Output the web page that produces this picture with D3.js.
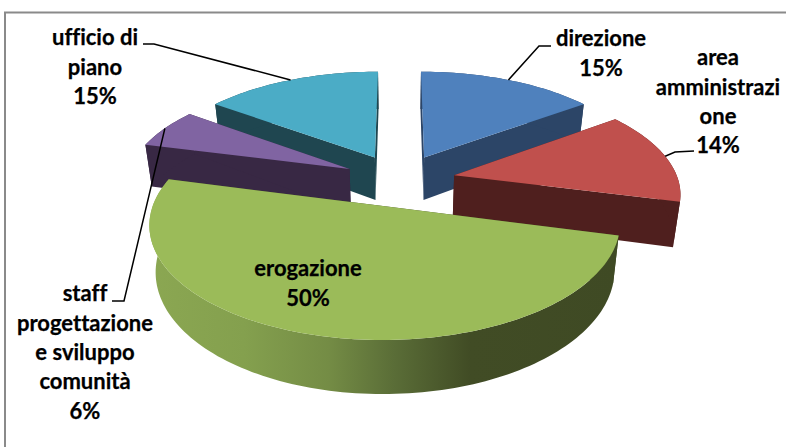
<!DOCTYPE html>
<html><head><meta charset="utf-8">
<script src="https://cdn.jsdelivr.net/npm/d3@7"></script>
<style>html,body{margin:0;padding:0;background:#fff;overflow:hidden}svg{display:block}text{font-family:Lato,"Open Sans",sans-serif;font-weight:700;fill:#000;stroke:#000;stroke-width:.25px;font-variant-ligatures:none}</style>
</head><body><svg id="c" width="786" height="447"></svg>
<script>
const categories = ["direzione","area amministrazione","erogazione","staff progettazione e sviluppo comunità","ufficio di piano"];
const values = [15,14,50,6,15];
const labelLines = [["direzione","15%"],["area","amministrazi","one","14%"],["erogazione","50%"],["staff","progettazione","e sviluppo","comunità","6%"],["ufficio di","piano","15%"]];
const topColors = ["#4f81bd","#c0504d","#9bbb59","#8064a2","#4bacc6"];
const sideColors = ["#2c4567","#4f1f1e","url(#greenWall)","#382844","#1f4650"];
const drawOrder = [4,0,3,1,2];

const svg = d3.select("#c");
const cx=399.5, cy=180, R=224, Q=104.8, k=0.15, explode=0.25, depth=44, bottomShrink=0.975;
function project(theta, off, r=1, down=0){
  const u=r*Math.sin(theta)+off[0], v=-r*Math.cos(theta)+off[1], w=1-k*v;
  return [cx+R*u/w*(down?bottomShrink:1), cy+Q*v/w+(down?depth/w:0)];
}
const arcs = d3.pie().sort(null).value(d=>d).startAngle(0).endAngle(2*Math.PI)(values);
const slices = arcs.map((a,i)=>{
  const mid=(a.startAngle+a.endAngle)/2;
  return {i,a,mid,off:[explode*Math.sin(mid),-explode*Math.cos(mid)]};
});
const line=d3.line();

const g=svg.append("defs").append("linearGradient").attr("id","greenWall").attr("gradientUnits","userSpaceOnUse")
  .attr("x1",150).attr("x2",620).attr("y1",0).attr("y2",0);
[[0,"#8ba752"],[0.2,"#84a04e"],[0.38,"#748c45"],[0.52,"#5a6d37"],[0.68,"#414c25"],[1,"#3f4a24"]]
  .forEach(s=>g.append("stop").attr("offset",s[0]).attr("stop-color",s[1]));

svg.append("rect").attr("x",5).attr("y",12.5).attr("width",820).attr("height",470)
  .attr("fill","#fff").attr("stroke","#8a8a8a").attr("stroke-width",2);

drawOrder.forEach(i=>{
  const s=slices[i], n=Math.max(12,Math.round((s.a.endAngle-s.a.startAngle)*40));
  const ts=d3.range(n+1).map(j=>s.a.startAngle+(s.a.endAngle-s.a.startAngle)*j/n);
  const apex=project(0,s.off,0), apexB=project(0,s.off,0,1);
  const slot=svg.append("g").attr("class","slice").attr("data-name",categories[i]);
  [s.a.startAngle,s.a.endAngle].forEach(t=>{
    slot.append("path").attr("fill",i===2?"#414c25":sideColors[i])
      .attr("d",line([apex,project(t,s.off),project(t,s.off,1,1),apexB])+"Z");
  });
  const wall=ts.map(t=>project(t,s.off)).concat(ts.slice().reverse().map(t=>project(t,s.off,1,1)));
  slot.append("path").attr("fill",sideColors[i]).attr("d",line(wall)+"Z");
  slot.append("path").attr("fill",topColors[i]).attr("d",line([apex].concat(ts.map(t=>project(t,s.off))))+"Z");
});

const leaders={0:[[551,46],[539,46]],1:[[694,151],[675,152]],3:[[112,301],[124,301]],4:[[143,44],[154,44]]};
Object.keys(leaders).forEach(i=>{
  const s=slices[+i];
  svg.append("path").attr("fill","none").attr("stroke","#000").attr("stroke-width",1.5)
    .attr("d",line(leaders[i].concat([project(s.mid,s.off)])));
});

const labelPos=[[601,39],[718,58],[308,269],[85,294],[95,38]];
const lineGap=29.4;
labelLines.forEach((ls,i)=>{
  const t=svg.append("text").attr("text-anchor","middle").attr("font-size",22);
  ls.forEach((l,j)=>t.append("tspan").attr("x",labelPos[i][0]).attr("y",labelPos[i][1]+j*lineGap).attr("dy","0.33em").text(l));
});
</script></body></html>
